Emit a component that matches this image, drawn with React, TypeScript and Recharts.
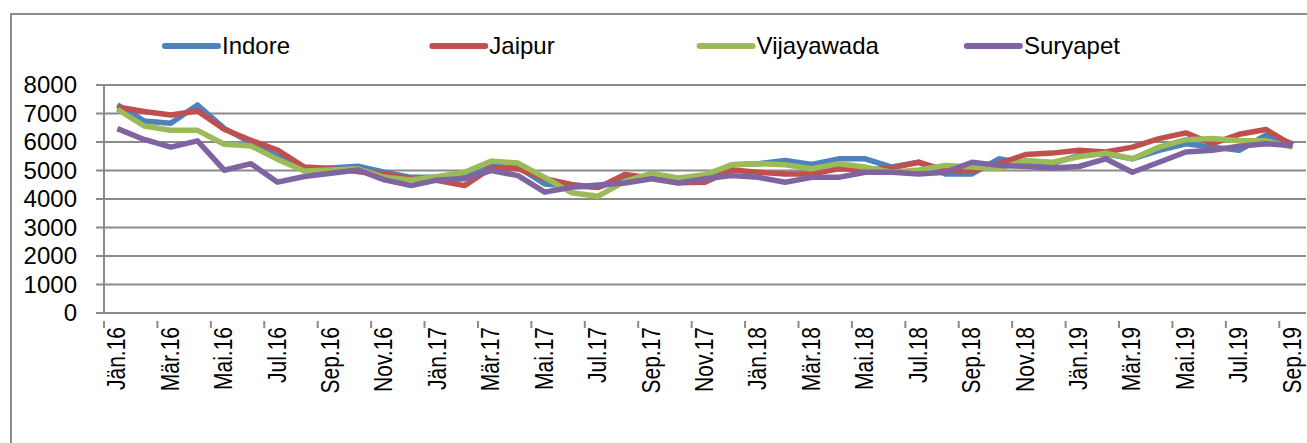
import { LineChart, Line, XAxis, YAxis, CartesianGrid, Legend } from "recharts";

const months = [
  "Jän.16", "Feb.16", "Mär.16", "Apr.16", "Mai.16", "Jun.16", "Jul.16", "Aug.16", "Sep.16", "Okt.16", "Nov.16", "Dez.16",
  "Jän.17", "Feb.17", "Mär.17", "Apr.17", "Mai.17", "Jun.17", "Jul.17", "Aug.17", "Sep.17", "Okt.17", "Nov.17", "Dez.17",
  "Jän.18", "Feb.18", "Mär.18", "Apr.18", "Mai.18", "Jun.18", "Jul.18", "Aug.18", "Sep.18", "Okt.18", "Nov.18", "Dez.18",
  "Jän.19", "Feb.19", "Mär.19", "Apr.19", "Mai.19", "Jun.19", "Jul.19", "Aug.19", "Sep.19",
];

const indore = [
  7300, 6740, 6660, 7300, 6480, 5980, 5500, 5030, 5090, 5150, 4940, 4760,
  4760, 4760, 5180, 5120, 4530, 4450, 4420, 4700, 4760, 4650, 4760, 5200,
  5240, 5350, 5210, 5410, 5410, 5120, 5290, 4880, 4880, 5410, 5240, 5240,
  5530, 5590, 5410, 5710, 5940, 5820, 5710, 6240, 5940,
];

const jaipur = [
  7230, 7070, 6950, 7090, 6450, 6060, 5720, 5120, 5070, 4960, 4880, 4700,
  4650, 4470, 5100, 5060, 4710, 4510, 4400, 4860, 4740, 4570, 4590, 5020,
  4940, 4880, 4880, 5060, 5020, 5090, 5290, 5000, 4980, 5240, 5560, 5610,
  5710, 5650, 5820, 6120, 6320, 5940, 6270, 6440, 5880,
];

const vijayawada = [
  7150, 6560, 6410, 6410, 5920, 5860, 5390, 4980, 5020, 5060, 4760, 4670,
  4790, 4940, 5330, 5260, 4760, 4220, 4100, 4620, 4900, 4740, 4850, 5200,
  5240, 5200, 5060, 5240, 5120, 4940, 5020, 5180, 5120, 5060, 5350, 5290,
  5480, 5610, 5410, 5820, 6080, 6120, 6040, 6040, 5820,
];

const suryapet = [
  6470, 6090, 5820, 6040, 5010, 5240, 4590, 4790, 4900, 5020, 4670, 4470,
  4670, 4710, 5000, 4820, 4240, 4410, 4490, 4560, 4710, 4560, 4710, 4820,
  4760, 4590, 4760, 4760, 4940, 4940, 4880, 4940, 5290, 5180, 5140, 5090,
  5140, 5410, 4940, 5290, 5650, 5710, 5850, 5940, 5880,
];

const seriesNames = ["Indore", "Jaipur", "Vijayawada", "Suryapet"];
const seriesColors = ["#4f81bd", "#c0504d", "#9bbb59", "#8064a2"];

const yTicks = [0, 1000, 2000, 3000, 4000, 5000, 6000, 7000, 8000];

const data = months.map((m, i) => ({
  month: m,
  Indore: indore[i],
  Jaipur: jaipur[i],
  Vijayawada: vijayawada[i],
  Suryapet: suryapet[i],
}));

const FONT = "'Liberation Sans', Arial, sans-serif";
const GRID = "#8a8a8a";
const HALF_BAND = 13.36;

const MonthTick = (props: any) => {
  const { x, y, payload } = props;
  return (
    <g>
      <line x1={x - HALF_BAND} x2={x - HALF_BAND} y1={y} y2={y + 7} stroke={GRID} strokeWidth={2} />
      <text
        x={0}
        y={0}
        transform={`translate(${x + 8},${y + 6}) rotate(-90) scale(1,1.2)`}
        textAnchor="end"
        fontSize={21}
        fontFamily={FONT}
        fill="#000"
      >
        {payload.value}
      </text>
    </g>
  );
};

const ValueTick = (props: any) => {
  const { y, payload } = props;
  return (
    <text x={77} y={y + 8} textAnchor="end" fontSize={24} fontFamily={FONT} fill="#000">
      {payload.value}
    </text>
  );
};

const LegendContent = () => {
  return (
    <svg width={1307} height={80}>
      {seriesNames.map((name, i) => {
        const x0 = 165 + 267.3 * i;
        return (
          <g key={name}>
            <line x1={x0} x2={x0 + 53} y1={46} y2={46} stroke={seriesColors[i]} strokeWidth={6} strokeLinecap="round" />
            <text x={x0 + 57} y={54} fontSize={24} fontFamily={FONT} fill="#000">
              {name}
            </text>
          </g>
        );
      })}
    </svg>
  );
};

const App = () => {
  return (
    <div
      style={{
        position: "absolute",
        left: 0,
        top: 0,
        width: 1307,
        height: 443,
        overflow: "hidden",
        background: "#fff",
      }}
    >
      <div
        style={{
          position: "absolute",
          left: 10,
          top: 13,
          width: 1400,
          height: 500,
          border: "2px solid #8c8c8c",
        }}
      />
      <div style={{ position: "absolute", left: 0, top: 0 }}>
        <LineChart
          width={1326}
          height={443}
          data={data}
          margin={{ top: 85, right: 20, left: 0, bottom: 0 }}
        >
          <CartesianGrid vertical={false} stroke={GRID} strokeWidth={2} />
          <XAxis
            dataKey="month"
            scale="point"
            padding={{ left: HALF_BAND, right: HALF_BAND }}
            interval={1}
            height={130}
            axisLine={{ stroke: GRID, strokeWidth: 2 }}
            tickLine={false}
            tick={<MonthTick />}
          />
          <YAxis
            domain={[0, 8000]}
            ticks={yTicks}
            interval={0}
            width={104}
            tickSize={8}
            axisLine={{ stroke: GRID, strokeWidth: 2 }}
            tickLine={{ stroke: GRID, strokeWidth: 2 }}
            tick={<ValueTick />}
          />
          <Legend
            verticalAlign="middle"
            align="center"
            layout="horizontal"
            wrapperStyle={{ top: 0, left: 0, width: 1307, height: 80 }}
            content={<LegendContent />}
          />
          {seriesNames.map((name, i) => (
            <Line
              key={name}
              dataKey={name}
              stroke={seriesColors[i]}
              strokeWidth={5.5}
              dot={false}
              isAnimationActive={false}
              strokeLinejoin="round"
            />
          ))}
        </LineChart>
      </div>
    </div>
  );
};

export default App;
